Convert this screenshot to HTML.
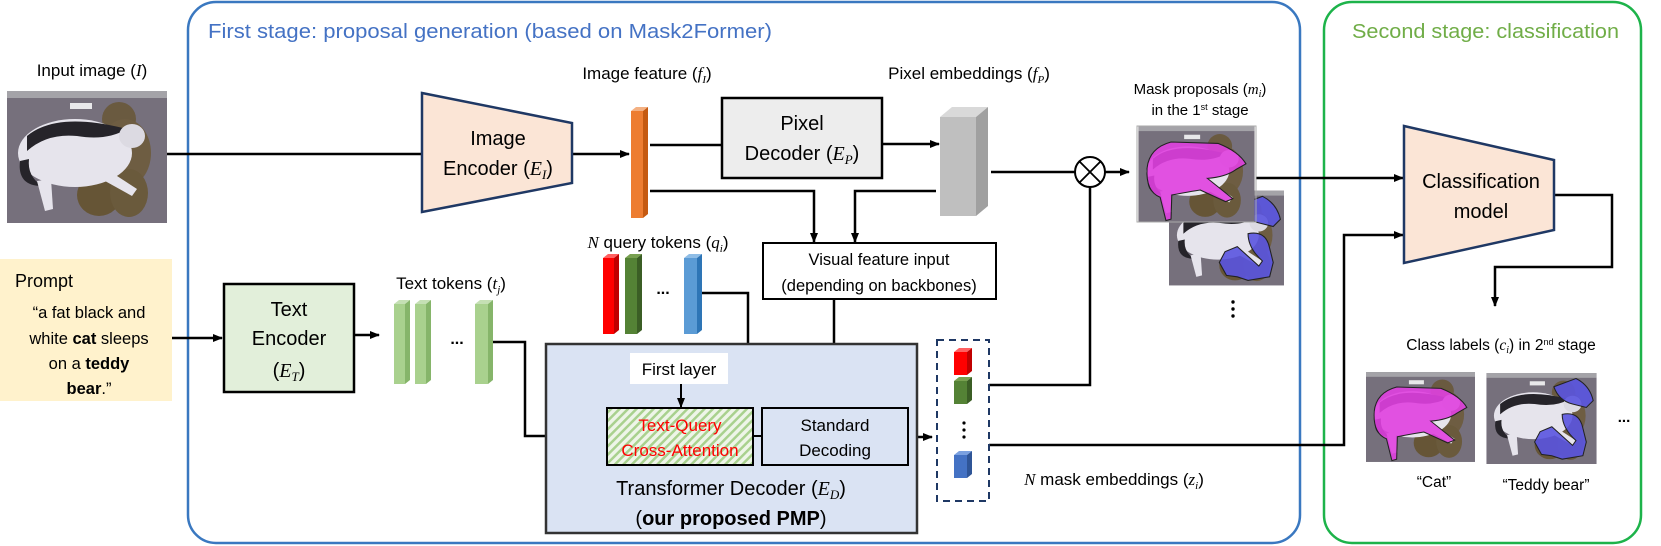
<!DOCTYPE html>
<html><head><meta charset="utf-8"><style>
html,body{margin:0;padding:0;background:#fff;}
svg{display:block;font-family:"Liberation Sans",sans-serif;}
.m{font-family:"Liberation Serif",serif;font-style:italic;}
</style></head><body>
<svg width="1661" height="546" viewBox="0 0 1661 546" xmlns="http://www.w3.org/2000/svg">
<defs>
<marker id="ar" markerWidth="10" markerHeight="10" refX="9" refY="5" orient="auto" markerUnits="userSpaceOnUse">
<path d="M0,1 L10,5 L0,9 Z" fill="#000"/></marker>
<pattern id="hatch" width="6" height="6" patternUnits="userSpaceOnUse" patternTransform="rotate(45)">
<rect width="6" height="6" fill="#eef5e8"/><rect width="2.5" height="6" fill="#a9d18e"/></pattern>
<symbol id="cat" viewBox="0 0 160 132">
<rect width="160" height="132" fill="#76707c"/>
<rect width="160" height="7" fill="#a4a3a8"/>
<rect x="63" y="12" width="22" height="6" fill="#e8e8ea"/>
<ellipse cx="112" cy="28" rx="17" ry="17" fill="#6a5a40"/>
<ellipse cx="118" cy="62" rx="26" ry="34" fill="#6e5d42"/>
<ellipse cx="92" cy="104" rx="22" ry="21" fill="#665536"/>
<ellipse cx="122" cy="102" rx="19" ry="24" fill="#6a5a3c"/>
<ellipse cx="68" cy="62" rx="57" ry="34" fill="#e6e4ec"/>
<path d="M20,45 Q50,20 120,38 Q100,50 70,45 Q40,42 20,60 Z" fill="#26242a"/>
<path d="M13,70 Q10,95 35,95 Q20,85 22,68 Z" fill="#26242a"/>
<path d="M30,90 L38,120 L46,118 L44,88 Z" fill="#e6e4ec"/>
<path d="M80,80 L125,105 L130,98 L90,72 Z" fill="#e6e4ec"/>
<ellipse cx="125" cy="45" rx="13" ry="12" fill="#dcdae2"/>
</symbol>
<symbol id="catm" viewBox="0 0 160 132">
<use href="#cat" width="160" height="132"/>
<path d="M12,58 Q15,30 45,22 L110,24 Q138,35 148,52 L134,60 Q120,70 95,72 L130,100 L120,104 L85,88 Q60,92 46,95 L45,128 L38,130 L30,98 Q10,90 12,58 Z" fill="#e040e0" fill-opacity="0.9" stroke="#222" stroke-width="1.5"/>
</symbol>
<symbol id="catb" viewBox="0 0 160 132">
<use href="#cat" width="160" height="132"/>
<path d="M98,20 L130,8 Q150,18 155,40 L145,50 L125,45 Q105,40 98,20 Z" fill="#5a54e0" fill-opacity="0.9" stroke="#222" stroke-width="1.5"/>
<path d="M110,60 Q135,55 140,80 L145,100 L140,120 L110,125 L95,120 L80,118 L70,100 L78,85 L95,78 L125,105 L130,98 Q110,80 110,60 Z" fill="#5a54e0" fill-opacity="0.9" stroke="#222" stroke-width="1.5"/>
</symbol>
</defs>

<!-- stage boxes -->
<rect x="188" y="2" width="1112" height="541" rx="28" fill="none" stroke="#3a78c0" stroke-width="2.5"/>
<rect x="1324" y="2" width="317" height="541" rx="28" fill="none" stroke="#1db34a" stroke-width="2.5"/>
<text x="208" y="38" font-size="20" fill="#4472c4" textLength="564" lengthAdjust="spacingAndGlyphs">First stage: proposal generation (based on Mask2Former)</text>
<text x="1352" y="38" font-size="20" fill="#70ad47" textLength="267" lengthAdjust="spacingAndGlyphs">Second stage: classification</text>

<!-- input image -->
<text x="92" y="76" font-size="17" text-anchor="middle">Input image (<tspan class="m">I</tspan>)</text>
<use href="#cat" x="7" y="91" width="160" height="132"/>

<!-- prompt -->
<rect x="0" y="259" width="172" height="142" fill="#fff2cc"/>
<text x="15" y="287" font-size="18">Prompt</text>
<g font-size="16.5" text-anchor="middle">
<text x="89" y="318">“a fat black and</text>
<text x="89" y="344">white <tspan font-weight="bold">cat</tspan> sleeps</text>
<text x="89" y="369">on a <tspan font-weight="bold">teddy</tspan></text>
<text x="89" y="394"><tspan font-weight="bold">bear</tspan>.”</text>
</g>

<!-- connectors -->
<g fill="none" stroke="#000" stroke-width="2.5">
<path d="M167 154 H422"/>
<path d="M572 154 H629" marker-end="url(#ar)"/>
<path d="M650 145 H722"/>
<path d="M650 191 H814 V242" marker-end="url(#ar)"/>
<path d="M882 144 H939" marker-end="url(#ar)"/>
<path d="M991 172 H1075"/>
<path d="M1105 172 H1129" marker-end="url(#ar)"/>
<path d="M936 191 H855 V242" marker-end="url(#ar)"/>
<path d="M834 299 V407" marker-end="url(#ar)"/>
<path d="M1090 187 V385 H989"/>
<path d="M172 338 H222" marker-end="url(#ar)"/>
<path d="M354 335 H379" marker-end="url(#ar)"/>
<path d="M493 342 H525 V436 H606" marker-end="url(#ar)"/>
<path d="M702 293 H748 V370 H728"/>
<path d="M908 437 H932" marker-end="url(#ar)"/>
<path d="M989 445 H1344 V235 H1403" marker-end="url(#ar)"/>
<path d="M1256 178 H1403" marker-end="url(#ar)"/>
<path d="M1554 195 H1612 V267 H1495 V306" marker-end="url(#ar)"/>
</g>
<circle cx="1090" cy="172" r="15" fill="#fff" stroke="#000" stroke-width="2"/>
<path d="M1079.4 161.4 L1100.6 182.6 M1100.6 161.4 L1079.4 182.6" stroke="#000" stroke-width="1.8"/>

<!-- image encoder -->
<polygon points="422,93 572,123 572,183 422,212" fill="#fbe5d6" stroke="#1f3864" stroke-width="2.5"/>
<text x="498" y="145" font-size="20" text-anchor="middle">Image</text>
<text x="498" y="175" font-size="20" text-anchor="middle">Encoder (<tspan class="m">E</tspan><tspan class="m" font-size="13" dy="4">I</tspan><tspan dy="-4">)</tspan></text>

<!-- image feature -->
<text x="647" y="79" font-size="17" text-anchor="middle">Image feature (<tspan class="m">f</tspan><tspan class="m" font-size="11" dy="4">I</tspan><tspan dy="-4">)</tspan></text>
<polygon points="631,111 636,107 648,107 643,111" fill="#f4b183"/>
<rect x="631" y="111" width="12" height="107" fill="#ed7d31"/>
<polygon points="643,111 648,107 648,214 643,218" fill="#c55a11"/>

<!-- pixel decoder -->
<rect x="722" y="98" width="160" height="80" fill="#ededed" stroke="#000" stroke-width="2.5"/>
<text x="802" y="130" font-size="20" text-anchor="middle">Pixel</text>
<text x="802" y="160" font-size="20" text-anchor="middle">Decoder (<tspan class="m">E</tspan><tspan class="m" font-size="13" dy="4">P</tspan><tspan dy="-4">)</tspan></text>

<!-- pixel embeddings -->
<text x="969" y="79" font-size="17" text-anchor="middle">Pixel embeddings (<tspan class="m">f</tspan><tspan class="m" font-size="11" dy="4">P</tspan><tspan dy="-4">)</tspan></text>
<polygon points="940,117 952,107 988,107 976,117" fill="#d9d9d9"/>
<rect x="940" y="117" width="36" height="99" fill="#bfbfbf"/>
<polygon points="976,117 988,107 988,206 976,216" fill="#a0a0a0"/>

<!-- mask proposals -->
<text x="1200" y="94" font-size="15" text-anchor="middle">Mask proposals (<tspan class="m">m</tspan><tspan class="m" font-size="10" dy="3">i</tspan><tspan dy="-3">)</tspan></text>
<text x="1200" y="115" font-size="15" text-anchor="middle">in the 1<tspan font-size="9" dy="-5">st</tspan><tspan dy="5"> stage</tspan></text>
<use href="#catb" x="1169" y="190" width="115" height="96"/>
<use href="#catm" x="1137" y="126" width="119" height="96"/>
<rect x="1137" y="126" width="119" height="96" fill="none" stroke="#aaa" stroke-width="1"/>
<g fill="#000"><circle cx="1233" cy="302" r="1.7"/><circle cx="1233" cy="309" r="1.7"/><circle cx="1233" cy="316" r="1.7"/></g>

<!-- visual feature input -->
<rect x="763" y="243" width="233" height="56" fill="#fff" stroke="#000" stroke-width="2"/>
<text x="879" y="265" font-size="16.5" text-anchor="middle">Visual feature input</text>
<text x="879" y="291" font-size="16.5" text-anchor="middle">(depending on backbones)</text>

<!-- text encoder -->
<rect x="224" y="284" width="130" height="108" fill="#e2efda" stroke="#000" stroke-width="2.5"/>
<text x="289" y="316" font-size="20" text-anchor="middle">Text</text>
<text x="289" y="345" font-size="20" text-anchor="middle">Encoder</text>
<text x="289" y="377" font-size="20" text-anchor="middle">(<tspan class="m">E</tspan><tspan class="m" font-size="13" dy="4">T</tspan><tspan dy="-4">)</tspan></text>

<!-- text tokens -->
<text x="451" y="289" font-size="17" text-anchor="middle">Text tokens (<tspan class="m">t</tspan><tspan class="m" font-size="11" dy="4">j</tspan><tspan dy="-4">)</tspan></text>
<g>
<polygon points="394,304 399,300 410,300 405,304" fill="#c5e0b4"/><rect x="394" y="304" width="11" height="80" fill="#a9d18e"/><polygon points="405,304 410,300 410,380 405,384" fill="#86b56a"/>
<polygon points="415,304 420,300 431,300 426,304" fill="#c5e0b4"/><rect x="415" y="304" width="11" height="80" fill="#a9d18e"/><polygon points="426,304 431,300 431,380 426,384" fill="#86b56a"/>
<polygon points="475,304 480,300 493,300 488,304" fill="#c5e0b4"/><rect x="475" y="304" width="13" height="80" fill="#a9d18e"/><polygon points="488,304 493,300 493,380 488,384" fill="#86b56a"/>
</g>
<text x="457" y="344" font-size="16" font-weight="bold" text-anchor="middle">...</text>

<!-- query tokens -->
<text x="658" y="248" font-size="17" text-anchor="middle"><tspan class="m">N</tspan> query tokens (<tspan class="m">q</tspan><tspan class="m" font-size="11" dy="4">i</tspan><tspan dy="-4">)</tspan></text>
<polygon points="603,258 608,254 619,254 614,258" fill="#ff6060"/><rect x="603" y="258" width="11" height="76" fill="#ff0000"/><polygon points="614,258 619,254 619,330 614,334" fill="#c00000"/>
<polygon points="625,258 630,254 642,254 637,258" fill="#78a050"/><rect x="625" y="258" width="12" height="76" fill="#548235"/><polygon points="637,258 642,254 642,330 637,334" fill="#3b5e25"/>
<polygon points="684,258 689,254 702,254 697,258" fill="#8fbde6"/><rect x="684" y="258" width="13" height="76" fill="#5b9bd5"/><polygon points="697,258 702,254 702,330 697,334" fill="#2e75b6"/>
<text x="663" y="294" font-size="16" font-weight="bold" text-anchor="middle">...</text>

<!-- transformer decoder -->
<rect x="546" y="344" width="371" height="189" fill="#dae3f3" stroke="#333" stroke-width="2.5"/>
<rect x="630" y="353" width="98" height="31" fill="#fff"/>
<text x="679" y="375" font-size="17" text-anchor="middle">First layer</text>
<path d="M681 384 V407" stroke="#000" stroke-width="2" marker-end="url(#ar)"/>
<rect x="607" y="408" width="146" height="57" fill="url(#hatch)" stroke="#000" stroke-width="2"/>
<text x="680" y="431" font-size="17" fill="#ff0000" text-anchor="middle">Text-Query</text>
<text x="680" y="456" font-size="17" fill="#ff0000" text-anchor="middle">Cross-Attention</text>
<path d="M753 436 H762" stroke="#000" stroke-width="2"/>
<rect x="762" y="408" width="146" height="57" fill="#dae3f3" stroke="#000" stroke-width="2"/>
<text x="835" y="431" font-size="17" text-anchor="middle">Standard</text>
<text x="835" y="456" font-size="17" text-anchor="middle">Decoding</text>
<text x="731" y="495" font-size="20" text-anchor="middle">Transformer Decoder (<tspan class="m">E</tspan><tspan class="m" font-size="13" dy="4">D</tspan><tspan dy="-4">)</tspan></text>
<text x="731" y="525" font-size="20" text-anchor="middle">(<tspan font-weight="bold">our proposed PMP</tspan>)</text>

<!-- mask embeddings -->
<rect x="937" y="340" width="52" height="161" fill="none" stroke="#1f3864" stroke-width="2" stroke-dasharray="7,5"/>
<polygon points="954,352 959,348 972,348 967,352" fill="#ff6060"/><rect x="954" y="352" width="13" height="23" fill="#ff0000"/><polygon points="967,352 972,348 972,371 967,375" fill="#c00000"/>
<polygon points="954,381 959,377 972,377 967,381" fill="#78a050"/><rect x="954" y="381" width="13" height="23" fill="#548235"/><polygon points="967,381 972,377 972,400 967,404" fill="#3b5e25"/>
<polygon points="954,455 959,451 972,451 967,455" fill="#7aa0e0"/><rect x="954" y="455" width="13" height="23" fill="#4472c4"/><polygon points="967,455 972,451 972,474 967,478" fill="#2f5597"/>
<g fill="#000"><circle cx="964" cy="423" r="1.6"/><circle cx="964" cy="430" r="1.6"/><circle cx="964" cy="437" r="1.6"/></g>
<text x="1114" y="485" font-size="17" text-anchor="middle"><tspan class="m">N</tspan> mask embeddings (<tspan class="m">z</tspan><tspan class="m" font-size="11" dy="4">i</tspan><tspan dy="-4">)</tspan></text>

<!-- classification -->
<polygon points="1404,126 1554,160 1554,230 1404,263" fill="#fbe5d6" stroke="#1f3864" stroke-width="2.5"/>
<text x="1481" y="188" font-size="20" text-anchor="middle">Classification</text>
<text x="1481" y="218" font-size="20" text-anchor="middle">model</text>

<text x="1501" y="350" font-size="15.5" text-anchor="middle">Class labels (<tspan class="m">c</tspan><tspan class="m" font-size="10" dy="3">i</tspan><tspan dy="-3">) in 2</tspan><tspan font-size="9" dy="-5">nd</tspan><tspan dy="5"> stage</tspan></text>
<use href="#catm" x="1366" y="372" width="109" height="90"/>
<use href="#catb" x="1486" y="373" width="111" height="91"/>
<text x="1624" y="422" font-size="15" font-weight="bold" text-anchor="middle">...</text>
<text x="1434" y="487" font-size="15.5" text-anchor="middle">“Cat”</text>
<text x="1546" y="490" font-size="15.5" text-anchor="middle">“Teddy bear”</text>
</svg>
</body></html>
